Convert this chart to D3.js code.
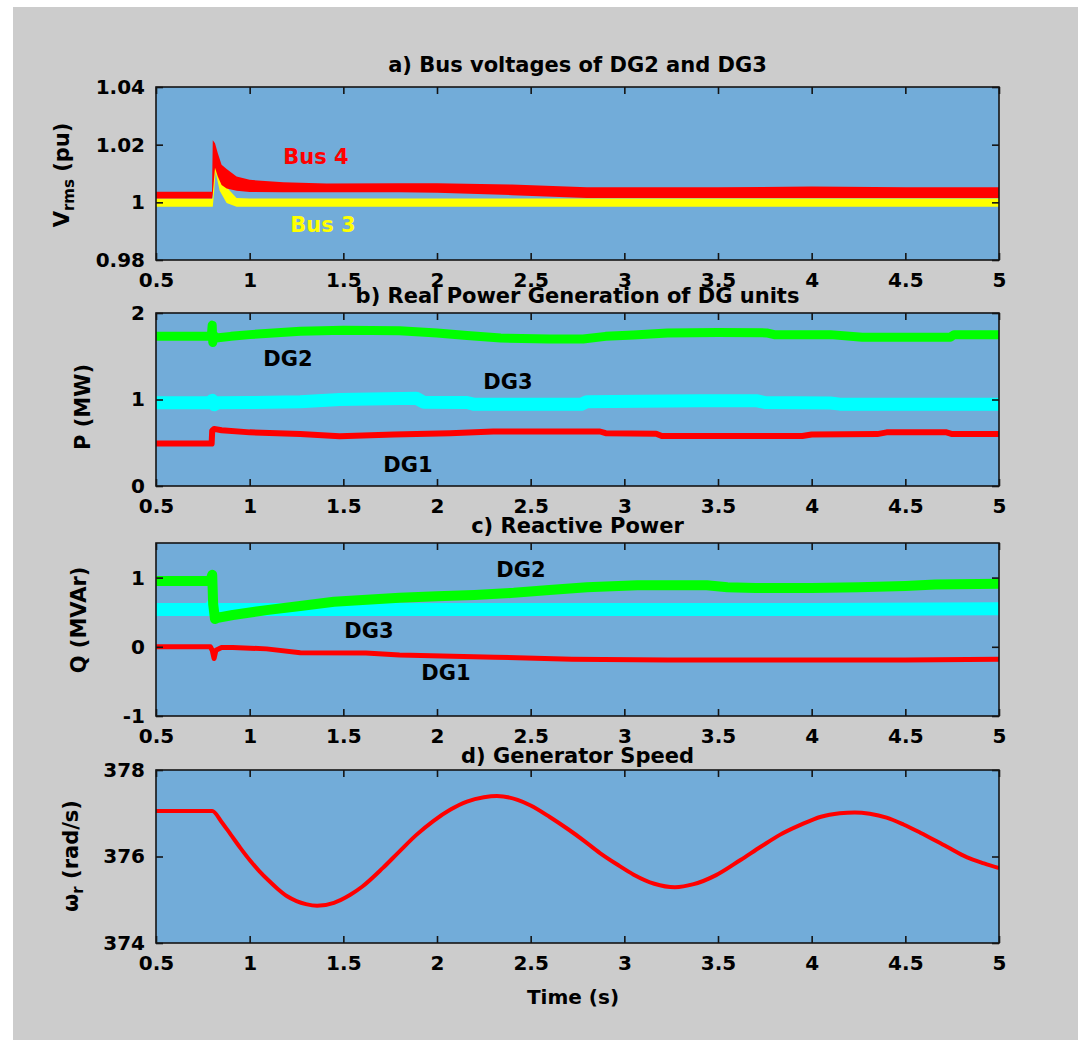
<!DOCTYPE html>
<html><head><meta charset="utf-8">
<script src="https://cdn.jsdelivr.net/npm/d3@7"></script>
<style>
body{margin:0;background:#fff}
svg{display:block}
text{font-family:"DejaVu Sans",sans-serif;font-weight:bold}
</style>
</head><body>
<svg id="c" width="1078" height="1051"></svg>
<script>
// ---------- axis ticks / labels ----------
const xTicks = [0.5,1,1.5,2,2.5,3,3.5,4,4.5,5];
const xTickLabels = ["0.5","1","1.5","2","2.5","3","3.5","4","4.5","5"];
const titles = ["a) Bus voltages of DG2 and DG3","b) Real Power Generation of DG units","c) Reactive Power","d) Generator Speed"];
const yDomainA = [0.98,1.04], yTicksA = [0.98,1,1.02,1.04], yTickLabelsA = ["0.98","1","1.02","1.04"];
const yDomainB = [0,2],       yTicksB = [0,1,2],          yTickLabelsB = ["0","1","2"];
const yDomainC = [-1,1.5],    yTicksC = [-1,0,1],         yTickLabelsC = ["-1","0","1"];
const yDomainD = [374,378],   yTicksD = [374,376,378],    yTickLabelsD = ["374","376","378"];
const xLabel = "Time (s)";

// ---------- a) bus voltages (band envelopes, pu) ----------
const bus4T  = [0.5,0.799,0.803,0.815,0.83,0.85,0.877,0.93,1.0,1.18,1.41,1.8,2.0,2.4,2.8,3.5,4.0,4.5,5.0];
const bus4Hi = [1.0037,1.0037,1.0215,1.0205,1.017,1.013,1.0116,1.009,1.0078,1.007,1.0065,1.0066,1.0066,1.0062,1.0052,1.0052,1.0055,1.0052,1.0052];
const bus4Lo = [1.0013,1.0013,1.0030,1.012,1.009,1.0060,1.0048,1.0040,1.0036,1.0035,1.0035,1.0035,1.0033,1.0025,1.0015,1.0015,1.0015,1.0015,1.0015];
const bus3T  = [0.5,0.803,0.808,0.818,0.84,0.877,0.93,1.0,2.0,3.0,4.0,5.0];
const bus3Hi = [1.0013,1.0013,1.0165,1.0172,1.010,1.0052,1.0015,1.0013,1.0013,1.0013,1.0013,1.0013];
const bus3Lo = [0.9985,0.9985,1.002,1.0105,1.004,0.9998,0.9985,0.9985,0.9985,0.9985,0.9985,0.9985];

// ---------- b) real power (MW) ----------
const pDG2T = [0.5,0.795,0.80,0.803,0.81,0.82,0.9,1.0,1.27,1.5,1.8,2.0,2.16,2.34,2.6,2.78,2.9,3.05,3.23,3.5,3.76,3.8,4.1,4.27,4.74,4.76,5.0];
const pDG2V = [1.73,1.73,1.86,1.66,1.74,1.71,1.73,1.75,1.79,1.80,1.795,1.77,1.74,1.71,1.70,1.70,1.73,1.745,1.77,1.775,1.77,1.75,1.75,1.72,1.72,1.75,1.75];
const pDG3T = [0.5,0.79,0.80,0.81,0.83,1.0,1.27,1.48,1.89,1.93,2.16,2.2,2.77,2.8,3.08,3.4,3.71,3.75,4.1,4.15,5.0];
const pDG3V = [0.963,0.963,0.99,0.94,0.963,0.965,0.975,1.0,1.014,0.967,0.965,0.944,0.944,0.975,0.98,0.985,0.985,0.965,0.96,0.946,0.946];
const pDG1T = [0.5,0.797,0.80,0.81,0.85,1.0,1.27,1.48,1.77,2.07,2.3,2.87,2.9,3.17,3.2,3.95,4.0,4.35,4.4,4.72,4.75,5.0];
const pDG1V = [0.49,0.49,0.64,0.66,0.645,0.62,0.60,0.575,0.595,0.61,0.63,0.63,0.61,0.605,0.578,0.578,0.595,0.60,0.62,0.62,0.60,0.60];

// ---------- c) reactive power (MVAr) ----------
const qDG2T = [0.5,0.79,0.80,0.805,0.815,0.83,0.91,1.09,1.27,1.45,1.8,2.0,2.2,2.41,2.6,2.8,3.07,3.44,3.55,3.7,4.0,4.25,4.5,4.66,5.0];
const qDG2V = [0.95,0.95,1.04,0.62,0.40,0.42,0.46,0.53,0.59,0.65,0.71,0.73,0.75,0.78,0.82,0.86,0.89,0.89,0.86,0.85,0.85,0.86,0.88,0.90,0.91];
const qDG3T = [0.5,0.79,0.80,0.82,0.85,2.0,3.0,4.0,5.0];
const qDG3V = [0.54,0.54,0.60,0.52,0.54,0.54,0.54,0.54,0.55];
const qDG1T = [0.5,0.79,0.80,0.81,0.82,0.85,0.91,1.09,1.27,1.62,1.8,2.31,2.72,3.23,3.85,4.5,5.0];
const qDG1V = [0.0,0.0,-0.05,-0.17,-0.05,-0.01,-0.01,-0.03,-0.085,-0.09,-0.12,-0.15,-0.18,-0.19,-0.19,-0.19,-0.18];

// ---------- d) generator speed (rad/s) ----------
const speedT = [0.5,0.8,0.85,0.9,0.95,1.0,1.05,1.1,1.15,1.2,1.25,1.3,1.36,1.45,1.535,1.6,1.71,1.8,1.89,1.98,2.07,2.16,2.25,2.32,2.43,2.5,2.6,2.7,2.78,2.87,2.96,3.05,3.16,3.27,3.37,3.49,3.62,3.73,3.83,3.94,4.05,4.15,4.23,4.31,4.4,4.49,4.58,4.72,4.83,4.92,5.0];
const speedV = [377.05,377.05,376.8,376.5,376.2,375.92,375.67,375.45,375.25,375.08,374.97,374.9,374.86,374.93,375.11,375.3,375.73,376.12,376.5,376.82,377.08,377.27,377.37,377.4,377.31,377.18,376.92,376.63,376.38,376.08,375.82,375.58,375.37,375.29,375.36,375.57,375.92,376.23,376.5,376.73,376.92,377.0,377.02,376.99,376.9,376.74,376.55,376.23,375.98,375.84,375.73];

// ---------- drawing ----------
const svg = d3.select("#c");
svg.append("rect").attr("x",13).attr("y",7).attr("width",1065).attr("height",1033).attr("fill","#cccccc");

const L = 156, R = 999, H = 173;
const tops = [87,313,543,770];
const x = d3.scaleLinear().domain([0.5,5]).range([L,R]);
const BG = "#72acd9", AX = "#141414";

const panels = [
  {domain:yDomainA, ticks:yTicksA, labels:yTickLabelsA, titleY:65},
  {domain:yDomainB, ticks:yTicksB, labels:yTickLabelsB, titleY:296},
  {domain:yDomainC, ticks:yTicksC, labels:yTickLabelsC, titleY:526},
  {domain:yDomainD, ticks:yTicksD, labels:yTickLabelsD, titleY:756}
];

panels.forEach((p,i)=>{
  const top = tops[i];
  p.y = d3.scaleLinear().domain(p.domain).range([top+H, top]);
  const g = svg.append("g");
  g.append("rect").attr("x",L).attr("y",top).attr("width",R-L).attr("height",H).attr("fill",BG);
  svg.append("clipPath").attr("id","clip"+i).append("rect").attr("x",L).attr("y",top).attr("width",R-L).attr("height",H);
  p.plot = g.append("g").attr("clip-path",`url(#clip${i})`);
  p.g = g;
});

function band(p, T, lo, hi, color){
  const a = d3.area().x(d=>x(d[0])).y0(d=>p.y(d[1])).y1(d=>p.y(d[2]));
  p.plot.append("path").datum(d3.zip(T,lo,hi)).attr("d",a).attr("fill",color);
}
function line(p, T, V, color, w, curve){
  const l = d3.line().x(d=>x(d[0])).y(d=>p.y(d[1]));
  if(curve) l.curve(curve);
  p.plot.append("path").datum(d3.zip(T,V)).attr("d",l).attr("fill","none")
    .attr("stroke",color).attr("stroke-width",w).attr("stroke-linejoin","round");
}

// a
band(panels[0], bus3T, bus3Lo, bus3Hi, "#ffff00");
band(panels[0], bus4T, bus4Lo, bus4Hi, "#ff0000");
// b
line(panels[1], pDG3T, pDG3V, "#00ffff", 13);
line(panels[1], pDG1T, pDG1V, "#ff0000", 6);
line(panels[1], pDG2T, pDG2V, "#00ff00", 9);
// c
line(panels[2], qDG3T, qDG3V, "#00ffff", 13);
line(panels[2], qDG1T, qDG1V, "#ff0000", 5);
line(panels[2], qDG2T, qDG2V, "#00ff00", 10);
// d
line(panels[3], speedT, speedV, "#ff0000", 4, d3.curveMonotoneX);

// axes
panels.forEach((p,i)=>{
  const top = tops[i], g = p.g;
  const style = sel => {
    sel.select(".domain").remove();
    sel.selectAll(".tick line").attr("stroke",AX).attr("stroke-width",1.6);
    sel.selectAll(".tick text").attr("fill","#000").attr("font-size",20)
      .attr("font-family","DejaVu Sans, sans-serif").attr("font-weight","bold");
  };
  g.append("g").attr("transform",`translate(0,${top+H})`)
    .call(d3.axisBottom(x).tickValues(xTicks).tickFormat((d,k)=>xTickLabels[k]).tickSizeInner(-7).tickSizeOuter(0).tickPadding(13)).call(style);
  g.append("g").attr("transform",`translate(0,${top})`)
    .call(d3.axisTop(x).tickValues(xTicks).tickFormat("").tickSizeInner(-7).tickSizeOuter(0)).call(style);
  g.append("g").attr("transform",`translate(${L},0)`)
    .call(d3.axisLeft(p.y).tickValues(p.ticks).tickFormat((d,k)=>p.labels[k]).tickSizeInner(-7).tickSizeOuter(0).tickPadding(11)).call(style);
  g.append("g").attr("transform",`translate(${R},0)`)
    .call(d3.axisRight(p.y).tickValues(p.ticks).tickFormat("").tickSizeInner(-7).tickSizeOuter(0)).call(style);
  g.append("rect").attr("x",L).attr("y",top).attr("width",R-L).attr("height",H)
    .attr("fill","none").attr("stroke",AX).attr("stroke-width",1.6);
  svg.append("text").attr("x",(L+R)/2).attr("y",p.titleY).attr("text-anchor","middle")
    .attr("dominant-baseline","central").attr("font-size",21).attr("fill","#000").text(titles[i]);
});

// series labels
const seriesLabels = [
  [0,"Bus 4",316,157,"#ff0000"],[0,"Bus 3",323,225,"#ffff00"],
  [1,"DG2",288,359,"#000"],[1,"DG3",508,382,"#000"],[1,"DG1",408,465,"#000"],
  [2,"DG2",521,570,"#000"],[2,"DG3",369,631,"#000"],[2,"DG1",446,673,"#000"]
];
seriesLabels.forEach(s=>{
  svg.append("text").attr("x",s[2]).attr("y",s[3]).attr("text-anchor","middle")
    .attr("dominant-baseline","central").attr("font-size",21).attr("fill",s[4]).text(s[1]);
});

// y-axis labels (rotated)
function yLabel(cx, cy, main, sub, rest){
  const t = svg.append("text").attr("transform",`translate(${cx},${cy}) rotate(-90)`)
    .attr("text-anchor","middle").attr("dominant-baseline","central").attr("font-size",21).attr("fill","#000");
  t.append("tspan").text(main);
  if(sub){ t.append("tspan").attr("font-size",15).attr("dy",7).text(sub); t.append("tspan").attr("dy",-7).text(rest); }
}
yLabel(62,175,"V","rms"," (pu)");
yLabel(83,407,"P (MW)");
yLabel(79,620,"Q (MVAr)");
yLabel(71,856,"\u03c9","r"," (rad/s)");

svg.append("text").attr("x",573).attr("y",997).attr("text-anchor","middle")
  .attr("dominant-baseline","central").attr("font-size",20).attr("fill","#000").text(xLabel);
</script>
</body></html>
